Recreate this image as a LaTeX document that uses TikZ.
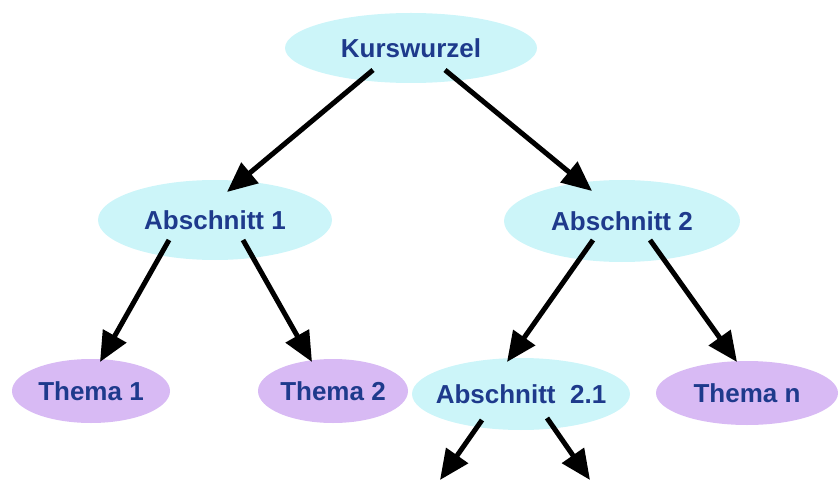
\documentclass[tikz,border=0pt]{standalone}
\usepackage{fontspec}
\setmainfont{Liberation Sans}
\usetikzlibrary{arrows.meta,shapes.geometric}
\definecolor{sectfill}{RGB}{204,245,249}
\definecolor{topicfill}{RGB}{216,186,244}
\definecolor{labelblue}{RGB}{30,58,140}
\tikzset{
  bubble/.style={ellipse, inner sep=0pt, text=labelblue,
    font=\fontsize{26}{30}\selectfont\bfseries},
  sect/.style={bubble, fill=sectfill},
  topic/.style={bubble, fill=topicfill},
  link/.style={line width=5pt, -{Triangle[length=30pt,width=26pt]}}
}
\begin{document}
\begin{tikzpicture}[x=1pt,y=1pt]
\useasboundingbox (0,0) rectangle (840,480);
\node[sect, minimum width=252pt, minimum height=70pt] (k) at (411,432) {Kurswurzel};
\node[sect, minimum width=234pt, minimum height=80pt] (a1) at (215,260) {Abschnitt 1};
\node[sect, minimum width=236pt, minimum height=82pt] (a2) at (622,259) {Abschnitt 2};
\node[topic, minimum width=158pt, minimum height=64pt] (t1) at (91,89) {Thema 1};
\node[topic, minimum width=150pt, minimum height=64pt] (t2) at (333,89) {Thema 2};
\node[sect, inner xsep=-12pt, minimum width=218pt, minimum height=72pt] (a21) at (521,86) {Abschnitt~~2.1};
\node[topic, minimum width=182pt, minimum height=64pt] (tn) at (747,87) {Thema n};
\coordinate (d1) at (440,0);
\coordinate (d2) at (590,0);
\draw[link] ([shift={(-38,-22)}]k.center) -- ([shift={(12,28)}]a1.center);
\draw[link] ([shift={(34,-22)}]k.center) -- ([shift={(-30,30)}]a2.center);
\draw[link] ([shift={(-46,-20)}]a1.center) -- ([shift={(9,29)}]t1.center);
\draw[link] ([shift={(28,-20)}]a1.center) -- ([shift={(-21,29)}]t2.center);
\draw[link] ([shift={(-29,-19)}]a2.center) -- ([shift={(-14,32)}]a21.center);
\draw[link] ([shift={(28,-19)}]a2.center) -- ([shift={(-10,31)}]tn.center);
\draw[link] ([shift={(-39,-26)}]a21.center) -- (d1);
\draw[link] ([shift={(26,-24)}]a21.center) -- (d2);
\end{tikzpicture}
\end{document}
